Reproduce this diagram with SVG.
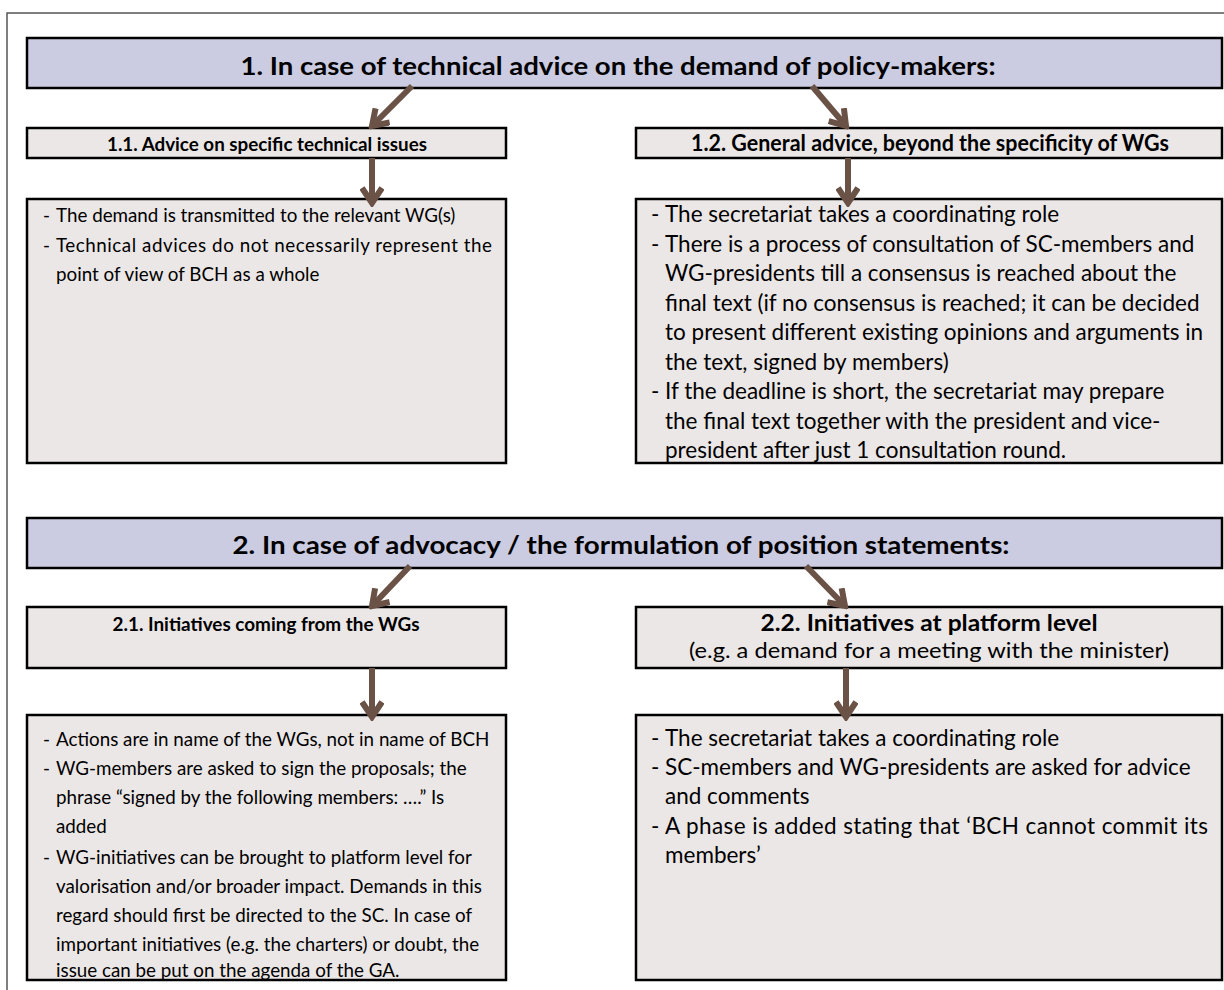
<svg xmlns="http://www.w3.org/2000/svg" width="1224" height="990" viewBox="0 0 1224 990">
<style>
.frame{fill:none;stroke:#555;stroke-width:1.5}
.hdr{fill:#cbcbe1;stroke:#000;stroke-width:2.5}
.box{fill:#ebe7e6;stroke:#000;stroke-width:2.5}
.ht{font-family:Lato,"Liberation Sans",sans-serif;font-weight:bold;font-size:24px;fill:#000;text-anchor:middle}
.tl{font-family:Lato,"Liberation Sans",sans-serif;font-weight:bold;font-size:19px;fill:#000;text-anchor:middle}
.tr{font-family:Lato,"Liberation Sans",sans-serif;font-weight:bold;font-size:22px;fill:#000;text-anchor:middle}
.sr{font-family:Lato,"Liberation Sans",sans-serif;font-size:22px;fill:#000;text-anchor:middle}
.bl{font-family:Lato,"Liberation Sans",sans-serif;font-size:18.8px;fill:#000}
.br{font-family:Lato,"Liberation Sans",sans-serif;font-size:22.5px;fill:#000}
.arr{fill:none;stroke:#6b5247;stroke-width:6;marker-end:url(#head)}
</style>
<defs>
<marker id="head" markerUnits="userSpaceOnUse" viewBox="-20 -12 24 24" refX="0" refY="0" markerWidth="24" markerHeight="24" orient="auto">
<path d="M-15,-10 L0,0 L-15,10" fill="none" stroke="#6b5247" stroke-width="6" stroke-linejoin="miter"/>
</marker>
</defs>
<rect width="1224" height="990" fill="#fff"/>
<path class="frame" d="M7,990 V13 H1224"/>

<g id="header1">
<rect class="hdr" x="27" y="38" width="1195" height="50"/>
<text class="ht" x="618" y="75" textLength="755" lengthAdjust="spacingAndGlyphs">1. In case of technical advice on the demand of policy-makers:</text>
</g>
<g id="title11">
<rect class="box" x="27" y="128" width="479" height="30"/>
<text class="tl" x="267" y="151" textLength="320" lengthAdjust="spacingAndGlyphs">1.1. Advice on specific technical issues</text>
</g>
<g id="title12">
<rect class="box" x="636" y="128" width="586" height="30"/>
<text class="tr" x="930" y="151" textLength="478" lengthAdjust="spacingAndGlyphs">1.2. General advice, beyond the specificity of WGs</text>
</g>
<g id="content11">
<rect class="box" x="27" y="199" width="479" height="264"/>
<text class="bl" x="43" y="222">-</text><text class="bl" x="56" y="222">The demand is transmitted to the relevant WG(s)</text>
<text class="bl" x="43" y="252">-</text><text class="bl" x="56" y="252" textLength="436" lengthAdjust="spacing">Technical advices do not necessarily represent the</text>
<text class="bl" x="56" y="281">point of view of BCH as a whole</text>
</g>
<g id="content12">
<rect class="box" x="636" y="199" width="586" height="264"/>
<text class="br" x="651" y="222">-</text><text class="br" x="665" y="222">The secretariat takes a coordinating role</text>
<text class="br" x="651" y="252">-</text><text class="br" x="665" y="252">There is a process of consultation of SC-members and</text>
<text class="br" x="665" y="281">WG-presidents till a consensus is reached about the</text>
<text class="br" x="665" y="311">final text (if no consensus is reached; it can be decided</text>
<text class="br" x="665" y="340">to present different existing opinions and arguments in</text>
<text class="br" x="665" y="370">the text, signed by members)</text>
<text class="br" x="651" y="399">-</text><text class="br" x="665" y="399">If the deadline is short, the secretariat may prepare</text>
<text class="br" x="665" y="429">the final text together with the president and vice-</text>
<text class="br" x="665" y="458">president after just 1 consultation round.</text>
</g>

<g id="header2">
<rect class="hdr" x="27" y="518" width="1195" height="50"/>
<text class="ht" x="621" y="554" textLength="777" lengthAdjust="spacingAndGlyphs">2. In case of advocacy / the formulation of position statements:</text>
</g>
<g id="title21">
<rect class="box" x="27" y="607" width="479" height="61"/>
<text class="tl" x="266" y="631" textLength="307" lengthAdjust="spacingAndGlyphs">2.1. Initiatives coming from the WGs</text>
</g>
<g id="title22">
<rect class="box" x="636" y="607" width="586" height="61"/>
<text class="tr" x="929" y="631" textLength="337" lengthAdjust="spacingAndGlyphs">2.2. Initiatives at platform level</text>
<text class="sr" x="929" y="658" textLength="480" lengthAdjust="spacingAndGlyphs">(e.g. a demand for a meeting with the minister)</text>
</g>
<g id="content21">
<rect class="box" x="27" y="715" width="479" height="265"/>
<text class="bl" x="43" y="746">-</text><text class="bl" x="56" y="746">Actions are in name of the WGs, not in name of BCH</text>
<text class="bl" x="43" y="775">-</text><text class="bl" x="56" y="775">WG-members are asked to sign the proposals; the</text>
<text class="bl" x="56" y="804">phrase “signed by the following members: ….” Is</text>
<text class="bl" x="56" y="833">added</text>
<text class="bl" x="43" y="864">-</text><text class="bl" x="56" y="864">WG-initiatives can be brought to platform level for</text>
<text class="bl" x="56" y="893">valorisation and/or broader impact. Demands in this</text>
<text class="bl" x="56" y="922">regard should first be directed to the SC. In case of</text>
<text class="bl" x="56" y="951">important initiatives (e.g. the charters) or doubt, the</text>
<text class="bl" x="56" y="977">issue can be put on the agenda of the GA.</text>
</g>
<g id="content22">
<rect class="box" x="636" y="715" width="586" height="265"/>
<text class="br" x="651" y="746">-</text><text class="br" x="665" y="746">The secretariat takes a coordinating role</text>
<text class="br" x="651" y="775">-</text><text class="br" x="665" y="775">SC-members and WG-presidents are asked for advice</text>
<text class="br" x="665" y="804">and comments</text>
<text class="br" x="651" y="834">-</text><text class="br" x="665" y="834" textLength="543" lengthAdjust="spacing">A phase is added stating that ‘BCH cannot commit its</text>
<text class="br" x="665" y="863">members’</text>
</g>

<g id="connectors">
<path class="arr" d="M412,86 L372,126"/>
<path class="arr" d="M812,86 L846,126"/>
<path class="arr" d="M372,158 L372,203"/>
<path class="arr" d="M848,158 L848,203"/>
<path class="arr" d="M410,566 L372,606"/>
<path class="arr" d="M806,566 L845,606"/>
<path class="arr" d="M372,668 L372,717"/>
<path class="arr" d="M846,668 L846,717"/>
</g>
</svg>
